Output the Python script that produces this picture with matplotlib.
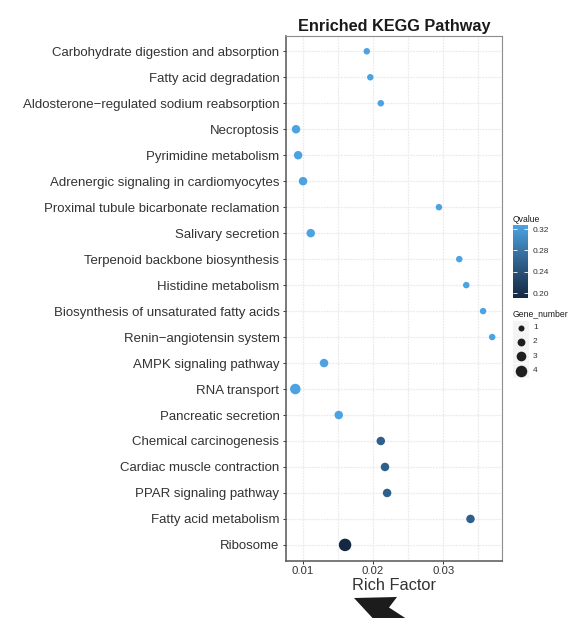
import numpy as np
import matplotlib
matplotlib.use("Agg")
import matplotlib.pyplot as plt
from matplotlib.colors import ListedColormap, Normalize
from matplotlib.cm import ScalarMappable
from matplotlib.patches import Polygon, Rectangle

plt.rcParams['font.family'] = ['Liberation Sans', 'DejaVu Sans']

# ---- data -------------------------------------------------------------
pathways = [
    "Carbohydrate digestion and absorption",
    "Fatty acid degradation",
    "Aldosterone\u2212regulated sodium reabsorption",
    "Necroptosis",
    "Pyrimidine metabolism",
    "Adrenergic signaling in cardiomyocytes",
    "Proximal tubule bicarbonate reclamation",
    "Salivary secretion",
    "Terpenoid backbone biosynthesis",
    "Histidine metabolism",
    "Biosynthesis of unsaturated fatty acids",
    "Renin\u2212angiotensin system",
    "AMPK signaling pathway",
    "RNA transport",
    "Pancreatic secretion",
    "Chemical carcinogenesis",
    "Cardiac muscle contraction",
    "PPAR signaling pathway",
    "Fatty acid metabolism",
    "Ribosome",
]
rich_factor = [0.0191, 0.0196, 0.0211, 0.0090, 0.0093, 0.0100, 0.0294,
               0.0111, 0.0323, 0.0333, 0.0357, 0.0370, 0.0130, 0.0089,
               0.0151, 0.0211, 0.0217, 0.0220, 0.0339, 0.0160]
gene_number = [1, 1, 1, 2, 2, 2, 1, 2, 1, 1, 1, 1, 2, 3, 2, 2, 2, 2, 2, 4]
qvalue = [0.3275] * 15 + [0.257, 0.257, 0.257, 0.257, 0.191]

q_ticks = [0.20, 0.24, 0.28, 0.32]
size_levels = [1, 2, 3, 4]


# ---- colour gradient interpolated in CIELAB ---------------------------
def srgb_to_lab(rgb):
    c = np.asarray(rgb, float)
    lin = np.where(c <= 0.04045, c / 12.92, ((c + 0.055) / 1.055) ** 2.4)
    m = np.array([[0.4124, 0.3576, 0.1805],
                  [0.2126, 0.7152, 0.0722],
                  [0.0193, 0.1192, 0.9505]])
    xyz = lin @ m.T / np.array([0.95047, 1.0, 1.08883])
    f = np.where(xyz > 0.008856, np.cbrt(xyz), 7.787 * xyz + 16 / 116)
    return np.stack([116 * f[..., 1] - 16,
                     500 * (f[..., 0] - f[..., 1]),
                     200 * (f[..., 1] - f[..., 2])], axis=-1)


def lab_to_srgb(lab):
    L, a, b = lab[..., 0], lab[..., 1], lab[..., 2]
    fy = (L + 16) / 116
    fx = fy + a / 500
    fz = fy - b / 200
    f = np.stack([fx, fy, fz], axis=-1)
    xyz = np.where(f ** 3 > 0.008856, f ** 3, (f - 16 / 116) / 7.787)
    xyz = xyz * np.array([0.95047, 1.0, 1.08883])
    minv = np.array([[3.2406, -1.5372, -0.4986],
                     [-0.9689, 1.8758, 0.0415],
                     [0.0557, -0.2040, 1.0570]])
    lin = np.clip(xyz @ minv.T, 0, 1)
    return np.where(lin <= 0.0031308, 12.92 * lin,
                    1.055 * lin ** (1 / 2.4) - 0.055)


low = np.array([0x15, 0x28, 0x42]) / 255
high = np.array([0x4d, 0xa3, 0xe2]) / 255
t = np.linspace(0, 1, 256)[:, None]
lab = srgb_to_lab(low) * (1 - t) + srgb_to_lab(high) * t
cmap = ListedColormap(np.clip(lab_to_srgb(lab), 0, 1))
norm = Normalize(vmin=min(qvalue), vmax=max(qvalue))


def diam_px(n):
    return 4.5 + 2.0 * np.asarray(n, float)


def marker_area(n):
    return (diam_px(n) * 0.72) ** 2


# ---- figure -----------------------------------------------------------
W, H = 588, 618
fig = plt.figure(figsize=(W / 100, H / 100), dpi=100)

ax_l, ax_r, ax_t, ax_b = 286, 502, 35.7, 560.5
ax = fig.add_axes([ax_l / W, 1 - ax_b / H, (ax_r - ax_l) / W, (ax_b - ax_t) / H])

ypos = np.arange(len(pathways), 0, -1)
ax.scatter(rich_factor, ypos, s=marker_area(gene_number), c=qvalue,
           cmap=cmap, norm=norm, linewidths=0, zorder=3)

ax.set_xlim(0.00757, 0.0384)
ax.set_ylim(0.4, len(pathways) + 0.6)
ax.set_yticks(ypos)
ax.set_yticklabels(pathways, fontsize=9.5, color='#333333')
ax.set_xticks([0.01, 0.02, 0.03])
ax.set_xticklabels(["0.01", "0.02", "0.03"], fontsize=8.2, color='#333333')
ax.set_xticks([0.015, 0.025, 0.035], minor=True)
ax.tick_params(axis='y', which='major', length=2.5, width=0.7,
               color='#333333', pad=2.2)
ax.tick_params(axis='x', which='major', length=2.5, width=0.7,
               color='#333333', pad=1.2)
ax.tick_params(axis='x', which='minor', length=0)
ax.grid(True, which='both', color='#ebebeb', linewidth=0.9,
        linestyle=(0, (1.5, 0.8)))
ax.set_axisbelow(True)
ax.set_facecolor('white')
for side in ('left', 'bottom'):
    ax.spines[side].set_color('#555555')
    ax.spines[side].set_linewidth(1.1)
for side in ('top', 'right'):
    ax.spines[side].set_color('#8c8c8c')
    ax.spines[side].set_linewidth(0.8)

fig.text((ax_l + ax_r) / 2 / W, 1 - 30.5 / H, "Enriched KEGG Pathway",
         ha='center', va='baseline', fontsize=11.7, fontweight='bold',
         color='#1a1a1a')
fig.text((ax_l + ax_r) / 2 / W, 1 - 589.5 / H, "Rich Factor",
         ha='center', va='baseline', fontsize=11.8, color='#333333')

# ---- colour bar legend ------------------------------------------------
cax = fig.add_axes([513 / W, 1 - 298 / H, 15 / W, 73 / H])
cb = fig.colorbar(ScalarMappable(norm=norm, cmap=cmap), cax=cax, ticks=q_ticks)
cb.outline.set_visible(False)
cb.ax.set_yticklabels([f"{v:.2f}" for v in q_ticks])
cax.tick_params(axis='y', direction='in', length=3, width=0.6, color='white',
                left=True, right=True, labelsize=6, labelcolor='#333333', pad=3)
fig.text(513 / W, 1 - 219 / H, "Qvalue", ha='left', va='center',
         fontsize=6.2, color='#1a1a1a')

# ---- overlay in pixel coordinates: size legend and arrow -------------
ov = fig.add_axes([0, 0, 1, 1], zorder=5)
ov.set_xlim(0, W)
ov.set_ylim(H, 0)
ov.axis('off')

ov.text(513, 314, "Gene_number", ha='left', va='center', fontsize=6.2,
        color='#1a1a1a')
key_y = [327.5, 341.5, 356, 371]
for n, ky in zip(size_levels, key_y):
    ov.add_patch(Rectangle((513, ky - 7), 16, 14, facecolor='#f4f4f4',
                           edgecolor='none', zorder=1))
    ov.scatter([521], [ky], s=marker_area(n) * 0.85, color='#1f1f1f',
               linewidths=0, zorder=2)
    ov.text(533, ky, str(n), ha='left', va='center', fontsize=6,
            color='#333333')

arrow = Polygon([(354, 598), (397, 597), (389, 607.5), (406, 618.5),
                 (373, 618.5)], closed=True, facecolor='#1c1c1c',
                edgecolor='none')
ov.add_patch(arrow)

fig.savefig("out.png", dpi=100, facecolor='white')
